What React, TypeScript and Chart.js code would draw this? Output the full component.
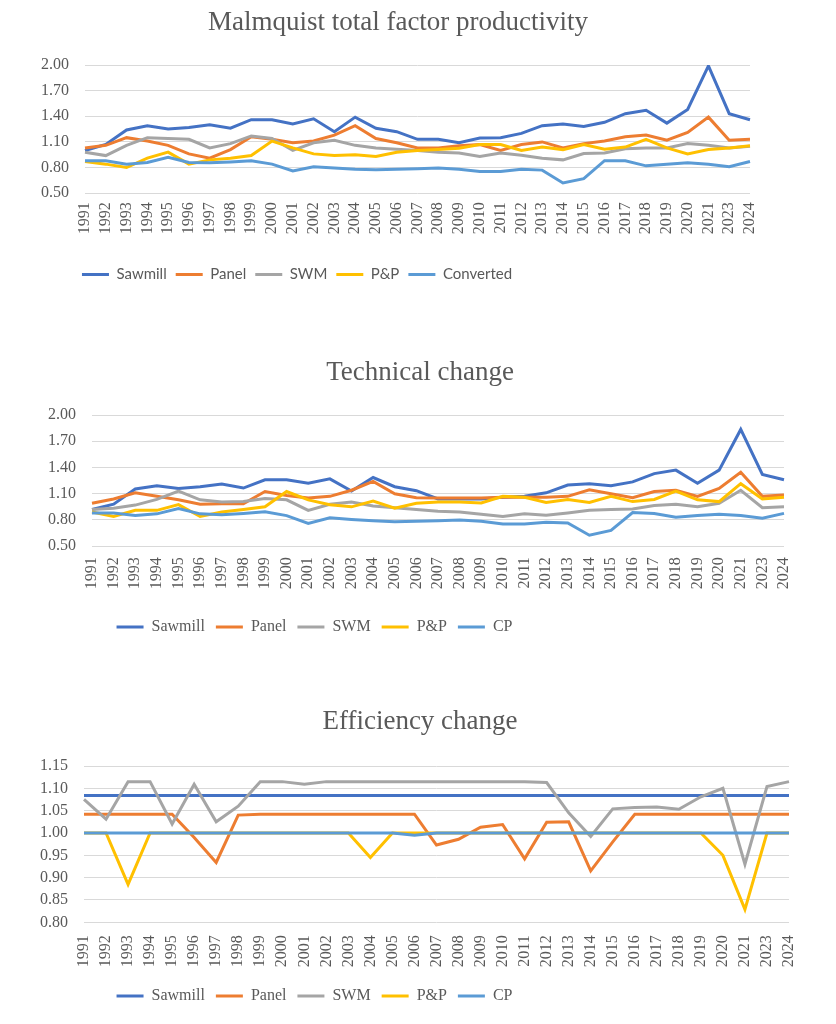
import { useEffect, useRef } from 'react';
import { Chart, registerables } from 'chart.js';

Chart.register(...registerables);

// Category axis: survey years (2022 is not reported)
const YEARS = [
  '1991', '1992', '1993', '1994', '1995', '1996', '1997', '1998', '1999', '2000',
  '2001', '2002', '2003', '2004', '2005', '2006', '2007', '2008', '2009', '2010',
  '2011', '2012', '2013', '2014', '2015', '2016', '2017', '2018', '2019', '2020',
  '2021', '2023', '2024',
];

// Malmquist total factor productivity
const MTFP_SAWMILL = [1.00, 1.07, 1.24, 1.29, 1.25, 1.27, 1.30, 1.26, 1.36, 1.36, 1.31, 1.37, 1.22, 1.39, 1.26, 1.22, 1.13, 1.13, 1.09, 1.145, 1.15, 1.20, 1.29, 1.31, 1.28, 1.33, 1.43, 1.47, 1.32, 1.48, 1.99, 1.43, 1.36];
const MTFP_PANEL = [1.03, 1.06, 1.15, 1.11, 1.06, 0.96, 0.91, 1.01, 1.16, 1.13, 1.09, 1.11, 1.18, 1.29, 1.14, 1.09, 1.03, 1.03, 1.055, 1.07, 1.00, 1.07, 1.10, 1.03, 1.08, 1.11, 1.16, 1.18, 1.12, 1.21, 1.39, 1.12, 1.13];
const MTFP_SWM = [0.98, 0.94, 1.06, 1.15, 1.14, 1.13, 1.03, 1.08, 1.17, 1.14, 1.00, 1.09, 1.12, 1.06, 1.03, 1.015, 1.00, 0.98, 0.97, 0.93, 0.97, 0.945, 0.91, 0.89, 0.965, 0.97, 1.02, 1.03, 1.03, 1.08, 1.06, 1.03, 1.05];
const MTFP_PP = [0.87, 0.84, 0.80, 0.91, 0.98, 0.84, 0.89, 0.91, 0.94, 1.11, 1.03, 0.96, 0.94, 0.95, 0.93, 0.98, 1.00, 1.01, 1.025, 1.07, 1.07, 1.00, 1.04, 1.01, 1.07, 1.015, 1.04, 1.13, 1.03, 0.96, 1.01, 1.03, 1.055];
const MTFP_CONVERTED = [0.88, 0.88, 0.84, 0.86, 0.92, 0.86, 0.855, 0.865, 0.88, 0.84, 0.76, 0.81, 0.795, 0.78, 0.775, 0.78, 0.785, 0.795, 0.78, 0.755, 0.755, 0.78, 0.77, 0.62, 0.67, 0.88, 0.88, 0.82, 0.84, 0.855, 0.84, 0.81, 0.87];

// Technical change
const TECH_SAWMILL = [0.92, 0.98, 1.155, 1.19, 1.16, 1.18, 1.21, 1.165, 1.26, 1.26, 1.22, 1.27, 1.13, 1.285, 1.18, 1.135, 1.04, 1.04, 1.04, 1.06, 1.07, 1.11, 1.20, 1.215, 1.19, 1.235, 1.33, 1.37, 1.22, 1.37, 1.835, 1.32, 1.26];
const TECH_PANEL = [0.99, 1.04, 1.11, 1.07, 1.03, 0.98, 0.985, 0.985, 1.125, 1.08, 1.05, 1.07, 1.14, 1.24, 1.10, 1.055, 1.05, 1.05, 1.05, 1.06, 1.06, 1.06, 1.07, 1.145, 1.10, 1.055, 1.125, 1.14, 1.07, 1.16, 1.345, 1.07, 1.085];
const TECH_SWM = [0.92, 0.935, 0.97, 1.035, 1.13, 1.03, 1.005, 1.01, 1.045, 1.03, 0.91, 0.98, 1.005, 0.96, 0.94, 0.92, 0.90, 0.89, 0.865, 0.84, 0.87, 0.855, 0.88, 0.91, 0.92, 0.925, 0.965, 0.98, 0.95, 0.99, 1.14, 0.94, 0.95];
const TECH_PP = [0.89, 0.84, 0.91, 0.91, 0.975, 0.84, 0.89, 0.92, 0.95, 1.125, 1.03, 0.975, 0.95, 1.015, 0.935, 0.99, 1.005, 1.005, 0.995, 1.07, 1.06, 1.00, 1.035, 1.00, 1.07, 1.01, 1.035, 1.13, 1.03, 1.01, 1.215, 1.04, 1.06];
const TECH_CP = [0.88, 0.88, 0.85, 0.87, 0.93, 0.87, 0.86, 0.875, 0.895, 0.85, 0.76, 0.825, 0.805, 0.79, 0.78, 0.785, 0.79, 0.80, 0.785, 0.755, 0.755, 0.775, 0.765, 0.625, 0.68, 0.885, 0.875, 0.83, 0.85, 0.865, 0.85, 0.82, 0.875];

// Efficiency change
const EFF_SAWMILL = [1.084, 1.084, 1.084, 1.084, 1.084, 1.084, 1.084, 1.084, 1.084, 1.084, 1.084, 1.084, 1.084, 1.084, 1.084, 1.084, 1.084, 1.084, 1.084, 1.084, 1.084, 1.084, 1.084, 1.084, 1.084, 1.084, 1.084, 1.084, 1.084, 1.084, 1.084, 1.084, 1.084];
const EFF_PANEL = [1.042, 1.042, 1.042, 1.042, 1.042, 0.99, 0.934, 1.04, 1.042, 1.042, 1.042, 1.042, 1.042, 1.042, 1.042, 1.042, 0.973, 0.986, 1.013, 1.019, 0.942, 1.024, 1.025, 0.915, 0.98, 1.042, 1.042, 1.042, 1.042, 1.042, 1.042, 1.042, 1.042];
const EFF_SWM = [1.075, 1.031, 1.115, 1.115, 1.02, 1.109, 1.025, 1.06, 1.115, 1.115, 1.109, 1.115, 1.115, 1.115, 1.115, 1.115, 1.115, 1.115, 1.115, 1.115, 1.115, 1.113, 1.045, 0.992, 1.054, 1.057, 1.058, 1.053, 1.081, 1.10, 0.93, 1.104, 1.115];
const EFF_PP = [1.0, 1.0, 0.885, 1.0, 1.0, 1.0, 1.0, 1.0, 1.0, 1.0, 1.0, 1.0, 1.0, 0.945, 1.0, 1.0, 1.0, 1.0, 1.0, 1.0, 1.0, 1.0, 1.0, 1.0, 1.0, 1.0, 1.0, 1.0, 1.0, 0.95, 0.829, 1.0, 1.0];
const EFF_CP = [1.0, 1.0, 1.0, 1.0, 1.0, 1.0, 1.0, 1.0, 1.0, 1.0, 1.0, 1.0, 1.0, 1.0, 1.0, 0.995, 1.0, 1.0, 1.0, 1.0, 1.0, 1.0, 1.0, 1.0, 1.0, 1.0, 1.0, 1.0, 1.0, 1.0, 1.0, 1.0, 1.0];

const SERIES_COLORS = ['#4472C4', '#ED7D31', '#A5A5A5', '#FFC000', '#5B9BD5'];
const SERIF = '"Liberation Serif", "Times New Roman", Times, serif';
const SANS = 'Lato, Roboto, "Liberation Sans", sans-serif';
const TEXT_GRAY = '#595959';
const GRID_GRAY = '#D9D9D9';
const WIDTH = 836;

// Moves the legend and title boxes sideways after layout
const boxOffset = {
  id: 'boxOffset',
  afterLayout(chart: any, _args: any, opts: any) {
    const lg = chart.legend;
    if (lg && opts.legendDx) {
      lg.left += opts.legendDx;
      lg.right += opts.legendDx;
    }
    const tb = chart.titleBlock;
    if (tb && opts.titleDx) {
      tb.left += opts.titleDx;
      tb.right += opts.titleDx;
    }
  },
};

type PanelSpec = {
  top: number;
  height: number;
  title: string;
  names: string[];
  series: number[][];
  yMin: number;
  yMax: number;
  yStep: number;
  plotLeft: number;
  plotRight: number;
  titlePadTop: number;
  titlePadBottom: number;
  xTickPad: number;
  xAxisHeight: number;
  legendFont: string;
  legendSize: number;
  legendPad: number;
  legendDx: number;
  titleDx: number;
};

function LinePanel({ spec }: { spec: PanelSpec }) {
  const ref = useRef<HTMLCanvasElement | null>(null);

  useEffect(() => {
    if (!ref.current) return;
    const n = spec.series.length;
    const datasets = spec.series.map((values, i) => ({
      label: spec.names[i],
      data: values,
      borderColor: SERIES_COLORS[i],
      backgroundColor: SERIES_COLORS[i],
      borderWidth: 3,
      pointRadius: 0,
      tension: 0,
      fill: false,
      // later series are painted over earlier ones
      order: n - i,
    }));

    const chart = new Chart(ref.current, {
      type: 'line',
      data: { labels: YEARS, datasets },
      plugins: [boxOffset],
      options: {
        animation: false,
        responsive: false,
        events: [],
        layout: { padding: { left: 0, right: WIDTH - spec.plotRight, top: 0, bottom: 0 } },
        plugins: {
          title: {
            display: true,
            text: spec.title,
            color: TEXT_GRAY,
            font: { family: SERIF, size: 27, weight: 'normal' },
            padding: { top: spec.titlePadTop, bottom: spec.titlePadBottom },
          },
          legend: {
            position: 'bottom',
            labels: {
              usePointStyle: true,
              pointStyle: 'line',
              pointStyleWidth: 27,
              padding: spec.legendPad,
              color: TEXT_GRAY,
              font: { family: spec.legendFont, size: spec.legendSize },
              sort: (a: any, b: any) => a.datasetIndex - b.datasetIndex,
            },
          },
          tooltip: { enabled: false },
          boxOffset: { legendDx: spec.legendDx, titleDx: spec.titleDx },
        } as any,
        scales: {
          x: {
            grid: { display: false, drawTicks: false },
            border: { display: false },
            ticks: {
              autoSkip: false,
              minRotation: 90,
              maxRotation: 90,
              padding: spec.xTickPad,
              color: TEXT_GRAY,
              font: { family: SERIF, size: 16 },
            },
            afterFit: (axis: any) => {
              axis.height = spec.xAxisHeight;
            },
          },
          y: {
            min: spec.yMin,
            max: spec.yMax,
            grid: { color: GRID_GRAY, lineWidth: 1, drawTicks: false },
            border: { display: false },
            ticks: {
              stepSize: spec.yStep,
              padding: 16,
              color: TEXT_GRAY,
              font: { family: SERIF, size: 16 },
              callback: (v: any) => Number(v).toFixed(2),
            },
            afterFit: (axis: any) => {
              axis.width = spec.plotLeft;
            },
          },
        },
      },
    });
    return () => chart.destroy();
  }, [spec]);

  return (
    <canvas
      ref={ref}
      width={WIDTH}
      height={spec.height}
      style={{ position: 'absolute', left: 0, top: spec.top, display: 'block' }}
    />
  );
}

const PANELS: PanelSpec[] = [
  {
    top: 0,
    height: 292,
    title: 'Malmquist total factor productivity',
    names: ['Sawmill', 'Panel', 'SWM', 'P&P', 'Converted'],
    series: [MTFP_SAWMILL, MTFP_PANEL, MTFP_SWM, MTFP_PP, MTFP_CONVERTED],
    yMin: 0.5,
    yMax: 2.0,
    yStep: 0.3,
    plotLeft: 85,
    plotRight: 750,
    titlePadTop: 6.3,
    titlePadBottom: 26.3,
    xTickPad: 9,
    xAxisHeight: 64.8,
    legendFont: SANS,
    legendSize: 15,
    legendPad: 9,
    legendDx: -78,
    titleDx: 23,
  },
  {
    top: 330,
    height: 315,
    title: 'Technical change',
    names: ['Sawmill', 'Panel', 'SWM', 'P&P', 'CP'],
    series: [TECH_SAWMILL, TECH_PANEL, TECH_SWM, TECH_PP, TECH_CP],
    yMin: 0.5,
    yMax: 2.0,
    yStep: 0.3,
    plotLeft: 92,
    plotRight: 784,
    titlePadTop: 26.8,
    titlePadBottom: 25.8,
    xTickPad: 11,
    xAxisHeight: 61.8,
    legendFont: SERIF,
    legendSize: 16,
    legendPad: 11,
    legendDx: -77.5,
    titleDx: 28,
  },
  {
    top: 680,
    height: 334,
    title: 'Efficiency change',
    names: ['Sawmill', 'Panel', 'SWM', 'P&P', 'CP'],
    series: [EFF_SAWMILL, EFF_PANEL, EFF_SWM, EFF_PP, EFF_CP],
    yMin: 0.8,
    yMax: 1.15,
    yStep: 0.05,
    plotLeft: 84,
    plotRight: 789,
    titlePadTop: 25.8,
    titlePadBottom: 27.8,
    xTickPad: 13,
    xAxisHeight: 54.7,
    legendFont: SERIF,
    legendSize: 16,
    legendPad: 11,
    legendDx: -80,
    titleDx: 25.5,
  },
];

export default function App() {
  return (
    <div
      style={{
        position: 'absolute',
        left: 0,
        top: 0,
        width: WIDTH,
        height: 1024,
        overflow: 'hidden',
        background: '#ffffff',
      }}
    >
      {PANELS.map((p) => (
        <LinePanel key={p.title} spec={p} />
      ))}
    </div>
  );
}
